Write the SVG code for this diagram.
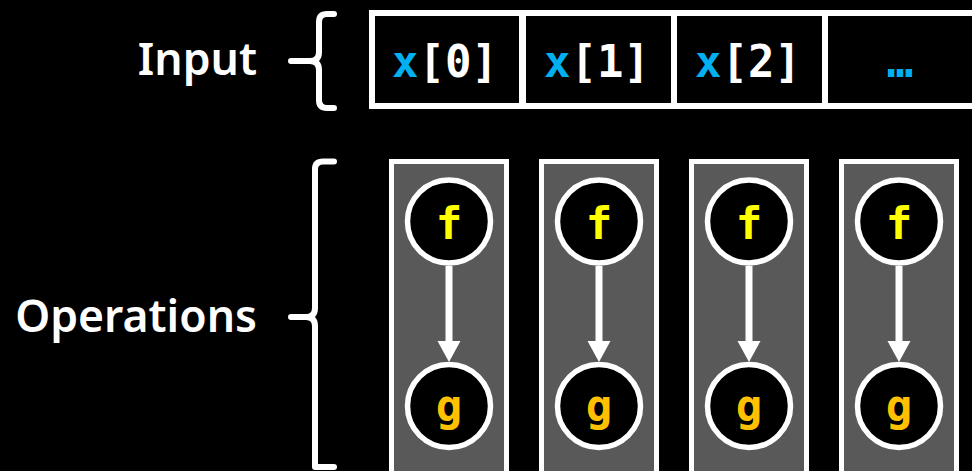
<svg xmlns="http://www.w3.org/2000/svg" width="972" height="471" viewBox="0 0 972 471">
<defs>
<style>
.lbl{font-family:"Noto Sans","DejaVu Sans",sans-serif;font-weight:600;font-size:44.5px;fill:#ffffff;text-anchor:end}
.code{font-family:"DejaVu Sans Mono","Liberation Mono",monospace;font-weight:bold;font-size:44px;fill:#ffffff;text-anchor:middle}
.blue{fill:#00B0F0}
.cell{fill:#000000;stroke:#ffffff;stroke-width:6}
.brace{fill:none;stroke:#ffffff;stroke-width:6;stroke-linecap:round;stroke-linejoin:round}
.op{fill:#595959;stroke:#ffffff;stroke-width:5}
.node{fill:#000000;stroke:#ffffff;stroke-width:5.5}
.f{font-family:"DejaVu Sans Mono",monospace;font-weight:bold;font-size:44px;fill:#FFFF00;text-anchor:middle}
.g{font-family:"DejaVu Sans Mono",monospace;font-weight:bold;font-size:44px;fill:#FFC000;text-anchor:middle}
.edge{stroke:#ffffff;stroke-width:7;fill:none}
.head{fill:#ffffff}
</style>
</defs>
<rect width="972" height="471" fill="#000000"/>
<g id="labels">
<text class="lbl" x="257" y="75">Input</text>
<text class="lbl" x="257" y="332">Operations</text>
</g>
<g id="braces">
<path class="brace" d="M334,14 H327 Q319,14 319,22 V52 Q319,61 310,61 H291 M310,61 Q319,61 319,70 V100 Q319,108 327,108 H334"/>
<path class="brace" d="M334,161.5 H323 Q315,161.5 315,169 V308 Q315,317 306,317 H291 M306,317 Q315,317 315,326 V467 H334"/>
</g>
<g id="input">
<rect class="cell" x="372" y="13" width="150" height="93"/>
<rect class="cell" x="523" y="13" width="151" height="93"/>
<rect class="cell" x="674" y="13" width="151" height="93"/>
<rect class="cell" x="825" y="13" width="160" height="93"/>
<text class="code" x="445" y="77"><tspan class="blue">x</tspan>[0]</text>
<text class="code" x="597" y="77"><tspan class="blue">x</tspan>[1]</text>
<text class="code" x="748" y="77"><tspan class="blue">x</tspan>[2]</text>
<text class="code blue" x="900" y="77">…</text>
</g>
<g id="op1">
<rect class="op" x="391.5" y="161.5" width="115" height="320"/>
<circle class="node" cx="449" cy="221.5" r="41.5"/>
<circle class="node" cx="449" cy="406" r="41.5"/>
<text class="f" x="449" y="239">f</text>
<text class="g" x="449" y="421">g</text>
</g>
<g id="op2">
<rect class="op" x="541.5" y="161.5" width="115" height="320"/>
<circle class="node" cx="599" cy="221.5" r="41.5"/>
<circle class="node" cx="599" cy="406" r="41.5"/>
<text class="f" x="599" y="239">f</text>
<text class="g" x="599" y="421">g</text>
</g>
<g id="op3">
<rect class="op" x="691.5" y="161.5" width="115" height="320"/>
<circle class="node" cx="749" cy="221.5" r="41.5"/>
<circle class="node" cx="749" cy="406" r="41.5"/>
<text class="f" x="749" y="239">f</text>
<text class="g" x="749" y="421">g</text>
</g>
<g id="op4">
<rect class="op" x="841.5" y="161.5" width="115" height="320"/>
<circle class="node" cx="899" cy="221.5" r="41.5"/>
<circle class="node" cx="899" cy="406" r="41.5"/>
<text class="f" x="899" y="239">f</text>
<text class="g" x="899" y="421">g</text>
</g>
<g id="connectors">
<line class="edge" x1="449" y1="266" x2="449" y2="343"/>
<polygon class="head" points="437.5,341 460.5,341 449,362"/>
<line class="edge" x1="599" y1="266" x2="599" y2="343"/>
<polygon class="head" points="587.5,341 610.5,341 599,362"/>
<line class="edge" x1="749" y1="266" x2="749" y2="343"/>
<polygon class="head" points="737.5,341 760.5,341 749,362"/>
<line class="edge" x1="899" y1="266" x2="899" y2="343"/>
<polygon class="head" points="887.5,341 910.5,341 899,362"/>
</g>
</svg>
